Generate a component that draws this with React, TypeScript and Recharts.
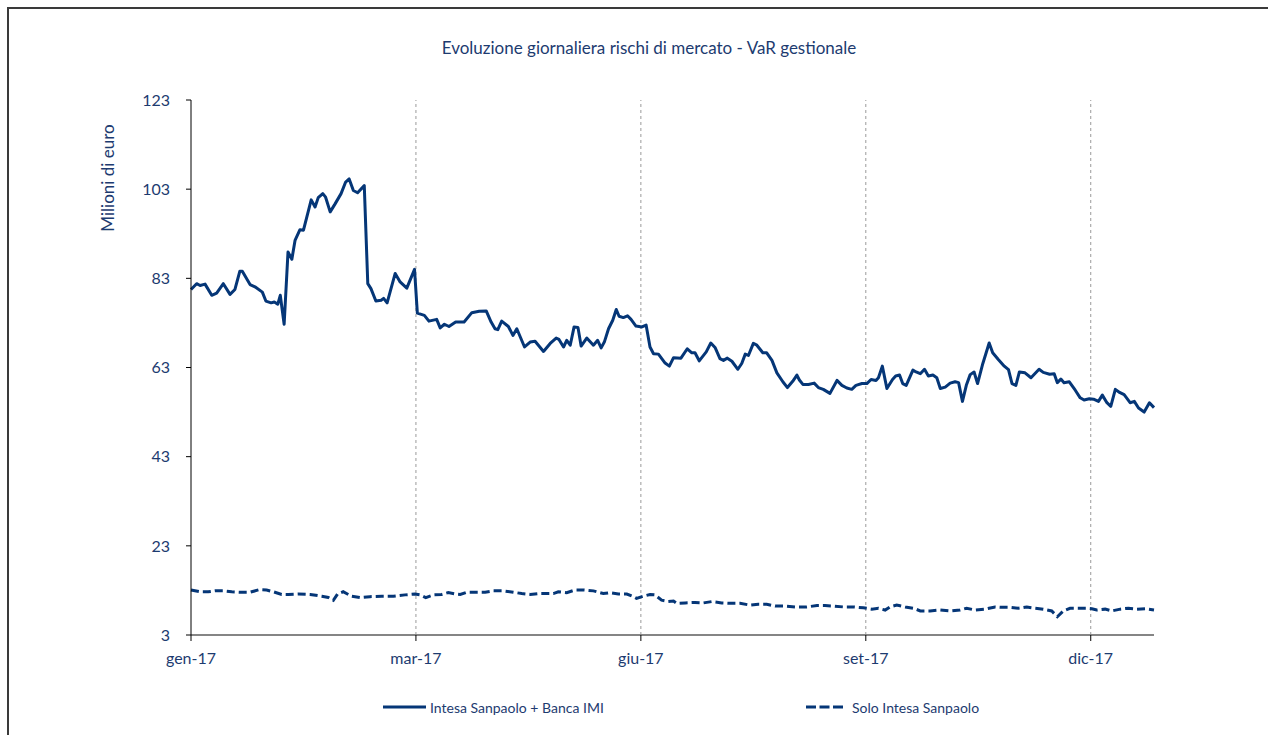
import { Legend, Line, LineChart, ReferenceLine, XAxis, YAxis } from "recharts";

// x values are trading-day positions along the year (0 = first day of Jan 2017)
const TICK_DAYS = [0, 64, 128, 192, 256];
const TICK_LABELS = ["gen-17", "mar-17", "giu-17", "set-17", "dic-17"];
const Y_TICKS = [3, 23, 43, 63, 83, 103, 123];
const LAST_DAY = 274;

const SERIES_NAMES = ["Intesa Sanpaolo + Banca IMI", "Solo Intesa Sanpaolo"];

// [day, VaR in milioni di euro] - Intesa Sanpaolo + Banca IMI
const GROUP_VAR: [number, number][] = [
  [0, 80.5], [1.6, 81.8], [2.6, 81.4], [4.0, 81.7], [5.9, 79.2], [7.3, 79.7],
  [9.2, 81.8], [11.1, 79.4], [12.5, 80.5], [13.9, 84.6], [14.6, 84.6], [16.8, 81.6],
  [18.2, 81.1], [20.3, 79.9], [21.3, 77.9], [22.8, 77.5], [23.7, 77.7], [24.7, 77.2],
  [25.4, 79.2], [26.5, 72.7], [27.6, 88.9], [28.7, 87.3], [29.6, 91.5], [31.0, 93.9],
  [32.0, 93.8], [34.2, 100.6], [35.3, 99.0], [36.2, 101.1], [37.5, 102.0], [38.3, 101.2],
  [39.6, 97.9], [41.0, 99.7], [42.7, 102.0], [44.0, 104.6], [45.0, 105.3], [46.2, 102.7],
  [47.4, 102.2], [49.3, 103.8], [50.3, 81.8], [51.2, 80.7], [52.6, 77.9], [54.1, 78.1],
  [54.8, 78.5], [55.8, 77.5], [58.1, 84.1], [59.5, 82.2], [61.4, 80.8], [63.6, 85.0],
  [64.4, 75.2], [66.4, 74.7], [67.7, 73.4], [69.9, 73.8], [70.9, 71.9], [72.1, 72.7],
  [73.4, 72.2], [75.3, 73.2], [77.7, 73.2], [79.9, 75.3], [82.0, 75.6], [84.0, 75.7],
  [85.4, 73.2], [86.5, 71.7], [87.3, 71.5], [88.4, 73.4], [90.3, 72.2], [91.6, 70.2],
  [92.7, 71.7], [94.9, 67.6], [96.5, 68.7], [97.9, 68.9], [100.3, 66.6], [102.2, 68.4],
  [103.9, 69.6], [104.7, 69.3], [106.0, 67.6], [106.9, 69.1], [107.9, 68.0], [109.0, 72.1],
  [110.1, 72.0], [111.0, 67.8], [112.6, 69.6], [114.5, 68.0], [115.7, 69.1], [116.7, 67.4],
  [117.6, 68.7], [118.8, 71.7], [120.0, 73.6], [121.0, 76.0], [121.8, 74.5], [123.0, 74.2],
  [124.2, 74.6], [125.2, 73.8], [126.6, 72.3], [128.3, 72.1], [129.5, 72.5], [130.6, 67.6],
  [131.6, 66.1], [133.0, 66.0], [134.9, 64.0], [136.1, 63.3], [137.3, 65.2], [139.4, 65.1],
  [141.2, 67.2], [142.5, 66.3], [143.4, 66.3], [144.6, 64.5], [146.6, 66.5], [147.9, 68.5],
  [149.1, 67.5], [150.5, 65.0], [151.5, 64.6], [152.6, 65.1], [153.9, 64.4], [155.6, 62.6],
  [156.7, 63.9], [157.7, 66.0], [158.6, 65.7], [160.0, 68.4], [161.0, 68.0], [162.7, 66.3],
  [163.8, 66.3], [165.3, 64.6], [166.7, 61.8], [168.4, 59.8], [169.7, 58.5], [171.2, 59.9],
  [172.4, 61.3], [173.1, 60.2], [174.1, 59.2], [175.7, 59.2], [177.3, 59.5], [178.5, 58.5],
  [179.9, 58.1], [181.8, 57.2], [183.8, 60.1], [185.2, 59.0], [186.6, 58.4], [188.0, 58.1],
  [189.2, 59.0], [190.9, 59.4], [192.3, 59.4], [193.5, 60.3], [194.9, 60.1], [195.6, 60.7],
  [196.7, 63.3], [198.0, 58.3], [199.6, 60.3], [200.5, 61.1], [201.6, 61.3], [202.5, 59.4],
  [203.5, 59.0], [205.4, 62.4], [206.3, 62.0], [207.5, 61.6], [208.7, 62.6], [209.8, 61.1],
  [211.1, 61.3], [212.2, 60.7], [213.2, 58.3], [214.6, 58.6], [216.0, 59.5], [217.4, 59.8],
  [218.4, 59.6], [219.5, 55.4], [220.6, 59.0], [221.7, 61.4], [222.8, 62.0], [223.8, 59.4],
  [225.3, 63.9], [227.1, 68.5], [228.1, 66.3], [229.7, 64.8], [231.4, 63.3], [232.6, 62.5],
  [233.6, 59.4], [234.7, 59.0], [235.7, 62.0], [237.3, 61.8], [239.0, 60.7], [241.3, 62.6],
  [242.5, 61.9], [244.3, 61.5], [245.6, 61.6], [246.5, 59.6], [247.5, 60.4], [248.4, 59.6],
  [249.9, 59.8], [251.6, 57.9], [253.0, 56.2], [254.1, 55.7], [255.6, 56.0], [256.8, 55.9],
  [258.2, 55.4], [259.3, 56.8], [260.6, 55.1], [261.7, 54.3], [263.0, 58.1], [264.2, 57.4],
  [265.5, 56.9], [267.2, 55.1], [268.4, 55.4], [269.6, 53.9], [271.2, 53.0], [272.7, 55.1],
  [274.0, 54.0],
];

// [day, VaR in milioni di euro] - Solo Intesa Sanpaolo
const PARENT_VAR: [number, number][] = [
  [0, 13.1], [2.6, 12.7], [4.9, 12.7], [6.8, 12.9], [9.2, 12.9], [11.6, 12.7],
  [13.9, 12.6], [16.8, 12.6], [19.6, 13.2], [21.5, 13.1], [23.4, 12.7], [25.8, 12.1],
  [27.7, 12.1], [30.5, 12.2], [33.9, 12.1], [37.2, 11.7], [39.1, 11.4], [40.5, 10.8],
  [41.7, 12.2], [43.3, 12.7], [45.7, 11.7], [48.1, 11.4], [50.9, 11.6], [54.3, 11.7],
  [57.6, 11.7], [60.9, 12.0], [63.7, 12.2], [65.2, 12.0], [66.8, 11.4], [69.0, 12.0],
  [71.3, 12.1], [73.2, 12.5], [75.1, 12.2], [76.6, 12.1], [78.5, 12.6], [80.8, 12.6],
  [83.7, 12.6], [86.0, 12.9], [88.9, 12.9], [91.7, 12.6], [94.1, 12.3], [96.5, 12.1],
  [98.8, 12.3], [101.2, 12.3], [103.1, 12.3], [104.5, 12.7], [106.9, 12.5], [109.3, 13.1],
  [111.6, 13.1], [114.5, 12.9], [117.3, 12.3], [119.2, 12.5], [121.6, 12.2], [124.0, 12.2],
  [125.9, 11.6], [126.8, 11.2], [128.7, 11.7], [130.6, 12.1], [132.0, 12.0], [133.9, 10.8],
  [135.8, 10.5], [137.3, 10.6], [138.2, 10.1], [140.6, 10.2], [143.4, 10.3], [145.8, 10.2],
  [148.2, 10.5], [151.0, 10.2], [153.9, 10.1], [156.2, 10.1], [159.1, 9.7], [161.4, 9.9],
  [163.8, 9.9], [166.2, 9.5], [169.0, 9.5], [171.9, 9.3], [175.2, 9.3], [178.1, 9.6],
  [180.4, 9.6], [182.8, 9.5], [185.6, 9.3], [188.5, 9.3], [191.3, 9.1], [193.7, 8.8],
  [195.6, 9.0], [197.5, 8.6], [198.9, 9.3], [200.8, 9.7], [203.2, 9.3], [205.6, 9.0],
  [207.5, 8.4], [210.3, 8.4], [213.1, 8.6], [216.0, 8.4], [218.8, 8.6], [220.7, 9.0],
  [223.1, 8.6], [226.0, 8.8], [228.8, 9.3], [230.7, 9.2], [233.1, 9.2], [235.4, 9.0],
  [237.8, 9.3], [240.2, 9.0], [242.5, 8.8], [244.9, 8.4], [246.5, 7.1], [248.2, 8.4],
  [250.1, 9.0], [252.5, 9.0], [254.9, 9.0], [256.3, 8.9], [257.7, 8.6], [260.1, 8.8],
  [262.0, 8.4], [264.4, 8.8], [266.7, 9.0], [269.1, 8.8], [271.5, 8.9], [274.0, 8.6],
];

const NAVY = "#053677";
const TEXT_COLOR = "#1d3b70";
const FONT = "Lato, 'Open Sans', sans-serif";

const groupData = GROUP_VAR.map(([day, value]) => ({ day, value }));
const parentData = PARENT_VAR.map(([day, value]) => ({ day, value }));

function formatTick(day: number) {
  const i = TICK_DAYS.indexOf(day);
  return i >= 0 ? TICK_LABELS[i] : "";
}

const legendText: React.CSSProperties = {
  position: "absolute",
  top: 0,
  lineHeight: "24px",
  fontSize: 14,
  color: TEXT_COLOR,
  whiteSpace: "nowrap",
};

function LegendContent() {
  return (
    <div style={{ position: "relative", width: 1268, height: 24, fontFamily: FONT }}>
      <svg width={44} height={24} style={{ position: "absolute", left: 383, top: 0 }}>
        <line x1={0} y1={11} x2={43} y2={11} stroke={NAVY} strokeWidth={3} />
      </svg>
      <span style={{ ...legendText, left: 430 }}>{SERIES_NAMES[0]}</span>
      <svg width={42} height={24} style={{ position: "absolute", left: 806, top: 0 }}>
        <line x1={0} y1={11} x2={40} y2={11} stroke={NAVY} strokeWidth={3} strokeDasharray="10 3.5" />
      </svg>
      <span style={{ ...legendText, left: 852 }}>{SERIES_NAMES[1]}</span>
    </div>
  );
}

export default function App() {
  return (
    <div
      style={{
        position: "absolute",
        left: 0,
        top: 0,
        width: 1268,
        height: 735,
        background: "#fff",
        overflow: "hidden",
        fontFamily: FONT,
      }}
    >
      <div
        style={{
          position: "absolute",
          left: 7,
          top: 7,
          width: 1300,
          height: 800,
          borderTop: "2px solid #3a3a3a",
          borderLeft: "2px solid #3a3a3a",
        }}
      />
      <div
        style={{
          position: "absolute",
          left: 349,
          top: 36,
          width: 600,
          textAlign: "center",
          fontSize: 17,
          lineHeight: "24px",
          color: TEXT_COLOR,
        }}
      >
        Evoluzione giornaliera rischi di mercato - VaR gestionale
      </div>
      <div
        style={{
          position: "absolute",
          left: 8,
          top: 167,
          width: 200,
          height: 22,
          lineHeight: "22px",
          textAlign: "center",
          fontSize: 17,
          color: TEXT_COLOR,
          transform: "rotate(-90deg)",
        }}
      >
        Milioni di euro
      </div>
      <div style={{ position: "absolute", left: 0, top: 0 }}>
        <LineChart width={1268} height={735} margin={{ top: 100, right: 114, bottom: 70, left: 131 }}>
          <XAxis
            type="number"
            dataKey="day"
            domain={[0, LAST_DAY]}
            ticks={TICK_DAYS}
            tickFormatter={formatTick}
            height={30}
            tickSize={6}
            tickMargin={12}
            axisLine={{ stroke: "#858585", strokeWidth: 2 }}
            tickLine={{ stroke: "#000" }}
            tick={{ fontSize: 16, fill: TEXT_COLOR, fontFamily: FONT }}
          />
          <YAxis
            type="number"
            domain={[3, 123]}
            ticks={Y_TICKS}
            width={60}
            tickSize={5}
            tickMargin={16}
            axisLine={{ stroke: "#000" }}
            tickLine={{ stroke: "#000" }}
            tick={{ fontSize: 16, fill: TEXT_COLOR, fontFamily: FONT }}
          />
          {/* dashed gridlines only at the inner month ticks (mar, giu, set, dic) */}
          {TICK_DAYS.slice(1).map((d) => (
            <ReferenceLine key={d} x={d} stroke="#9a9a9a" strokeDasharray="3 3" />
          ))}
          <Legend
            layout="horizontal"
            verticalAlign="middle"
            align="center"
            wrapperStyle={{ left: 0, top: 696, width: 1268, height: 24 }}
            content={() => <LegendContent />}
          />
          <Line
            data={parentData}
            dataKey="value"
            name={SERIES_NAMES[1]}
            type="linear"
            stroke={NAVY}
            strokeWidth={3}
            strokeDasharray="8 4"
            dot={false}
            activeDot={false}
            isAnimationActive={false}
          />
          <Line
            data={groupData}
            dataKey="value"
            name={SERIES_NAMES[0]}
            type="linear"
            stroke={NAVY}
            strokeWidth={3}
            strokeLinejoin="round"
            dot={false}
            activeDot={false}
            isAnimationActive={false}
          />
        </LineChart>
      </div>
    </div>
  );
}
